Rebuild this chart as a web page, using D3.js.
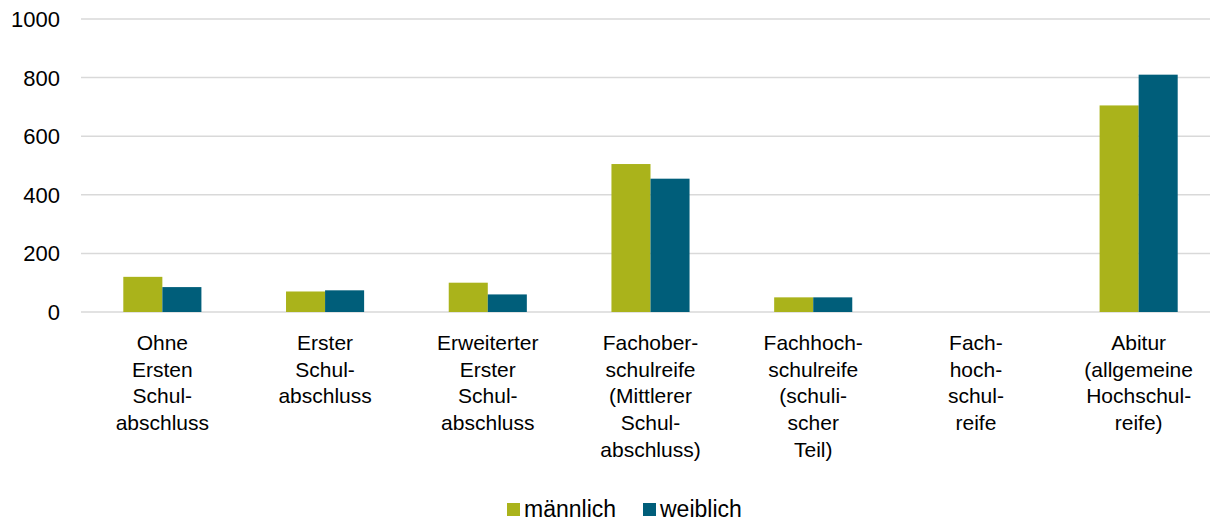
<!DOCTYPE html>
<html lang="de">
<head>
<meta charset="utf-8">
<title>Schulabschluss nach Geschlecht</title>
<script src="https://cdn.jsdelivr.net/npm/d3@7"></script>
<style>
  body { margin: 0; background: #fff; }
  svg { display: block; font-family: "Liberation Sans", Arial, sans-serif; }
  .grid line { stroke: #d9d9d9; stroke-width: 1.5px; }
  .ylab text { font-size: 22px; fill: #000; }
  .xlab text { font-size: 21px; fill: #000; }
  .legend text { font-size: 23px; fill: #000; }
</style>
</head>
<body>
<script>
// categories (label lines as in the original)
var categories = [
  ["Ohne", "Ersten", "Schul-", "abschluss"],
  ["Erster", "Schul-", "abschluss"],
  ["Erweiterter", "Erster", "Schul-", "abschluss"],
  ["Fachober-", "schulreife", "(Mittlerer", "Schul-", "abschluss)"],
  ["Fachhoch-", "schulreife", "(schuli-", "scher", "Teil)"],
  ["Fach-", "hoch-", "schul-", "reife"],
  ["Abitur", "(allgemeine", "Hochschul-", "reife)"]
];
var seriesNames = ["männlich", "weiblich"];
var maennlich = [120, 70, 100, 505, 50, 0, 705];
var weiblich = [85, 74, 60, 455, 50, 0, 810];
var yTicks = [0, 200, 400, 600, 800, 1000];
var colors = ["#aab31b", "#005e7a"];

var W = 1210, H = 523;
var margin = { top: 19, left: 81, bottom: 312 };

var svg = d3.select("body").append("svg")
  .attr("width", W)
  .attr("height", H);

var keys = categories.map(function(d, i) { return i; });

var x0 = d3.scaleBand()
  .domain(keys)
  .range([margin.left, 1220]);

var groupW = x0.bandwidth() * 0.48;
var x1 = d3.scaleBand()
  .domain([0, 1])
  .range([(x0.bandwidth() - groupW) / 2, (x0.bandwidth() + groupW) / 2]);

var y = d3.scaleLinear()
  .domain([0, 1000])
  .range([margin.bottom, margin.top]);

// gridlines
svg.append("g").attr("class", "grid")
  .selectAll("line")
  .data(yTicks)
  .enter().append("line")
  .attr("x1", margin.left)
  .attr("x2", W)
  .attr("y1", function(d) { return y(d); })
  .attr("y2", function(d) { return y(d); });

// y labels
svg.append("g").attr("class", "ylab")
  .selectAll("text")
  .data(yTicks)
  .enter().append("text")
  .attr("x", 60)
  .attr("y", function(d) { return y(d); })
  .attr("dy", "0.36em")
  .attr("text-anchor", "end")
  .text(function(d) { return d; });

// bars
var data = keys.map(function(i) { return [maennlich[i], weiblich[i]]; });

var groups = svg.append("g")
  .selectAll("g")
  .data(data)
  .enter().append("g")
  .attr("transform", function(d, i) { return "translate(" + x0(i) + ",0)"; });

groups.selectAll("rect")
  .data(function(d) { return d; })
  .enter().append("rect")
  .attr("x", function(d, j) { return x1(j); })
  .attr("y", function(d) { return y(d); })
  .attr("width", x1.bandwidth())
  .attr("height", function(d) { return y(0) - y(d); })
  .attr("fill", function(d, j) { return colors[j]; });

// category labels
var xlab = svg.append("g").attr("class", "xlab")
  .selectAll("text")
  .data(categories)
  .enter().append("text")
  .attr("text-anchor", "middle")
  .attr("transform", function(d, i) { return "translate(" + (x0(i) + x0.bandwidth() / 2) + ",350)"; });

xlab.selectAll("tspan")
  .data(function(d) { return d; })
  .enter().append("tspan")
  .attr("x", 0)
  .attr("y", function(d, j) { return j * 26.7; })
  .text(function(d) { return d; });

// legend
var legendX = [507, 643];
var legend = svg.append("g").attr("class", "legend")
  .selectAll("g")
  .data(seriesNames)
  .enter().append("g")
  .attr("transform", function(d, i) { return "translate(" + legendX[i] + ",503)"; });

legend.append("rect")
  .attr("width", 13)
  .attr("height", 13)
  .attr("fill", function(d, i) { return colors[i]; });

legend.append("text")
  .attr("x", 17)
  .attr("y", 14)
  .text(function(d) { return d; });
</script>
</body>
</html>
